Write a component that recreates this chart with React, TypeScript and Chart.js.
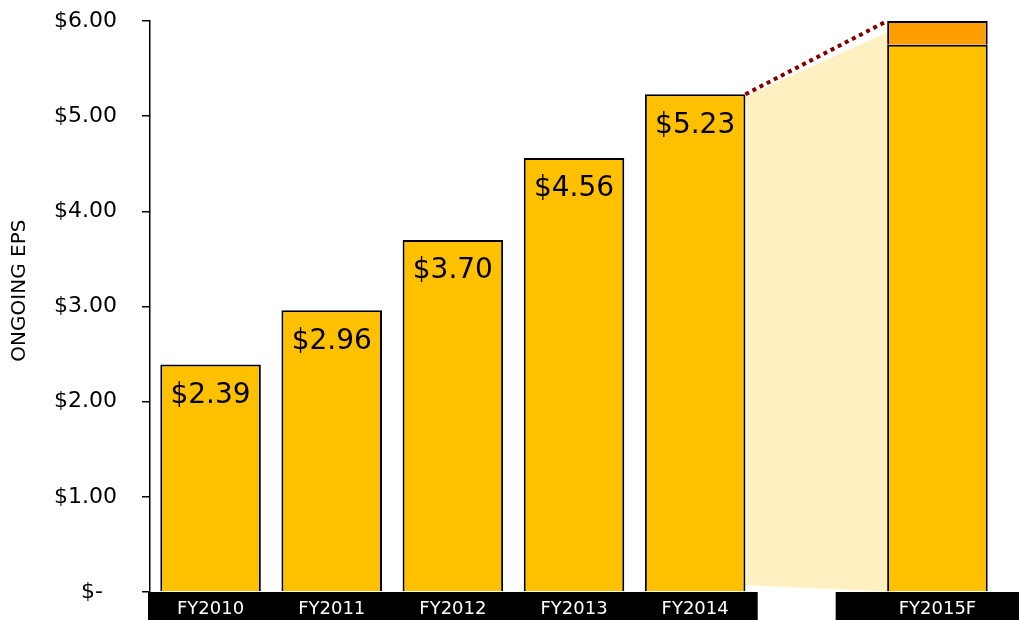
import React, { useEffect, useRef } from "react";
import { Chart, registerables } from "chart.js";

Chart.register(...registerables);

const categories = ["FY2010", "FY2011", "FY2012", "FY2013", "FY2014", "", "FY2015F"];
const epsActual = [2.39, 2.96, 3.7, 4.56, 5.23, null, 5.75];
const epsUpper = [null, null, null, null, null, null, 0.25];
const valueLabels = ["$2.39", "$2.96", "$3.70", "$4.56", "$5.23", "", ""];
const yTickLabels = ["$-  ", "$1.00", "$2.00", "$3.00", "$4.00", "$5.00", "$6.00"];
const yTitle = "     ONGOING EPS";

const FONT = "'DejaVu Sans', sans-serif";

const decorPlugin = {
  id: "decor",
  beforeDraw(chart: any) {
    const { ctx, chartArea, scales } = chart;
    const x = scales.x;
    const step = x.getPixelForValue(1) - x.getPixelForValue(0);
    ctx.save();
    ctx.fillStyle = "#000";
    const top = chartArea.bottom;
    const h = chart.height - top;
    const r1 = x.getPixelForValue(4) + step / 2 + 2;
    ctx.fillRect(chartArea.left - 2, top, r1 - (chartArea.left - 2), h);
    const l2 = x.getPixelForValue(5) + step * 0.16;
    ctx.fillRect(l2, top, chart.width - l2, h);
    ctx.restore();
  },
  beforeDatasetsDraw(chart: any) {
    const { ctx, chartArea } = chart;
    const m0 = chart.getDatasetMeta(0);
    const m1 = chart.getDatasetMeta(1);
    const b4 = m0.data[4];
    const b6 = m0.data[6];
    const t6 = m1.data[6];
    if (!b4 || !b6 || !t6) return;
    const xl = b4.x + b4.width / 2;
    const xr = b6.x - b6.width / 2;
    ctx.save();
    ctx.fillStyle = "#FFF0C2";
    ctx.beginPath();
    ctx.moveTo(xl, b4.y + 2);
    ctx.lineTo(xr + 8, t6.y + 8);
    ctx.lineTo(xr + 8, chartArea.bottom);
    ctx.lineTo(xl, chartArea.bottom - 7);
    ctx.closePath();
    ctx.fill();
    ctx.restore();
  },
  afterDatasetsDraw(chart: any) {
    const { ctx } = chart;
    const m0 = chart.getDatasetMeta(0);
    const m1 = chart.getDatasetMeta(1);
    const b4 = m0.data[4];
    const b6 = m0.data[6];
    const t6 = m1.data[6];
    ctx.save();
    ctx.font = `28px ${FONT}`;
    ctx.fillStyle = "#000";
    ctx.textAlign = "center";
    ctx.textBaseline = "middle";
    m0.data.forEach((bar: any, i: number) => {
      const t = valueLabels[i];
      if (!t) return;
      ctx.fillText(t, bar.x, bar.y + 31);
    });
    if (b4 && b6 && t6) {
      ctx.strokeStyle = "#800000";
      ctx.lineWidth = 4;
      ctx.setLineDash([4, 4]);
      ctx.beginPath();
      ctx.moveTo(b4.x + b4.width / 2, b4.y);
      ctx.lineTo(b6.x - b6.width / 2, t6.y);
      ctx.stroke();
    }
    ctx.restore();
  },
};

export default function App() {
  const ref = useRef<HTMLCanvasElement>(null);
  useEffect(() => {
    if (!ref.current) return;
    const chart = new Chart(ref.current, {
      type: "bar",
      data: {
        labels: categories,
        datasets: [
          {
            data: epsActual as any,
            backgroundColor: "#FFC000",
            borderColor: "#000",
            borderWidth: 2,
          },
          {
            data: epsUpper as any,
            backgroundColor: "#FF9E00",
            borderColor: "#000",
            borderWidth: 2,
          },
        ],
      },
      options: {
        animation: false,
        responsive: true,
        maintainAspectRatio: false,
        layout: { padding: { top: 21, right: 21, left: 0, bottom: 0 } },
        datasets: { bar: { categoryPercentage: 1, barPercentage: 0.83 } },
        plugins: { legend: { display: false }, tooltip: { enabled: false } },
        scales: {
          x: {
            stacked: true,
            afterFit: (s: any) => {
              s.height = 28;
            },
            grid: { display: false, drawTicks: false },
            border: { display: false },
            ticks: { color: "#fff", font: { family: FONT, size: 18 }, padding: 7, maxRotation: 0 },
          },
          y: {
            stacked: true,
            min: 0,
            max: 6,
            afterFit: (s: any) => {
              s.width = 150;
              s.paddingTop = 0;
              s.paddingBottom = 0;
            },
            grid: { drawOnChartArea: false, tickLength: 8, color: "#000", lineWidth: 1.5 },
            border: { display: true, color: "#000", width: 1.5 },
            ticks: {
              stepSize: 1,
              padding: 25,
              color: "#000",
              font: { family: FONT, size: 22 },
              callback: (_v: any, i: number) => yTickLabels[i],
            },
            title: {
              display: true,
              text: yTitle,
              color: "#000",
              font: { family: FONT, size: 20 },
              padding: { top: 8, bottom: 0 },
            },
          },
        },
      },
      plugins: [decorPlugin],
    });
    return () => chart.destroy();
  }, []);
  return (
    <div style={{ position: "absolute", left: 0, top: 0, width: 1019, height: 620, background: "#fff" }}>
      <canvas ref={ref} />
    </div>
  );
}
